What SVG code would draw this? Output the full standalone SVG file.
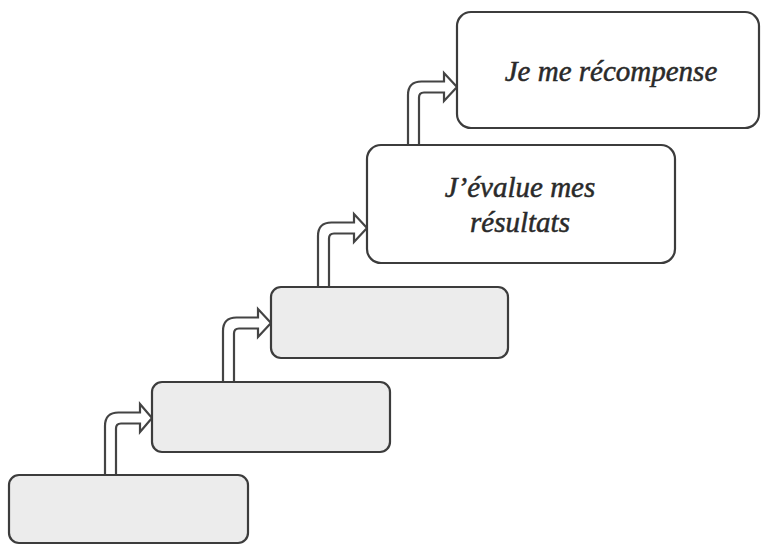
<svg xmlns="http://www.w3.org/2000/svg" width="761" height="545" viewBox="0 0 761 545">
  <style>
    .step { stroke: #3c3c3c; stroke-width: 2.2; }
    .blank { fill: #ececec; }
    .filled { fill: #ffffff; }
    .bent { fill: #ffffff; stroke: #444444; stroke-width: 2.2; stroke-linejoin: miter; }
    .label { font-family: "Liberation Serif", "Times New Roman", "DejaVu Serif", serif; font-style: italic; font-size: 29px; fill: #2a2a2a; stroke: #2a2a2a; stroke-width: 0.5; text-anchor: middle; }
  </style>
  <rect width="761" height="545" fill="#ffffff"/>

  <!-- bent-up arrows between successive steps -->
  <g id="connectors">
    <path class="bent" d="M105,475 L105,426 Q105,412.5 118.5,412.5 L140,412.5 L140,404 L152,418 L140,432 L140,423.5 L121,423.5 Q116,423.5 116,428.5 L116,475"/>
    <path class="bent" d="M223,382 L223,331 Q223,317.5 236.5,317.5 L258,317.5 L258,309 L271,323 L258,337 L258,328.5 L239,328.5 Q234,328.5 234,333.5 L234,382"/>
    <path class="bent" d="M318,287 L318,236 Q318,222.5 331.5,222.5 L354,222.5 L354,214 L367,228 L354,242 L354,233.5 L334,233.5 Q329,233.5 329,238.5 L329,287"/>
    <path class="bent" d="M408,145 L408,95 Q408,81.5 421.5,81.5 L444,81.5 L444,73 L457,87 L444,101 L444,92.5 L424,92.5 Q419,92.5 419,97.5 L419,145"/>
  </g>

  <g id="step1">
    <rect class="step blank" x="9" y="475" width="239" height="68" rx="10"/>
  </g>
  <g id="step2">
    <rect class="step blank" x="152" y="382" width="238" height="70" rx="10"/>
  </g>
  <g id="step3">
    <rect class="step blank" x="271" y="287" width="237" height="71" rx="10"/>
  </g>
  <g id="step4">
    <rect class="step filled" x="367" y="145" width="308" height="118" rx="14"/>
    <text class="label" x="520" y="197">J’évalue mes</text>
    <text class="label" x="520" y="232">résultats</text>
  </g>
  <g id="step5">
    <rect class="step filled" x="457" y="12" width="302" height="116" rx="14"/>
    <text class="label" x="611" y="81">Je me récompense</text>
  </g>
</svg>
